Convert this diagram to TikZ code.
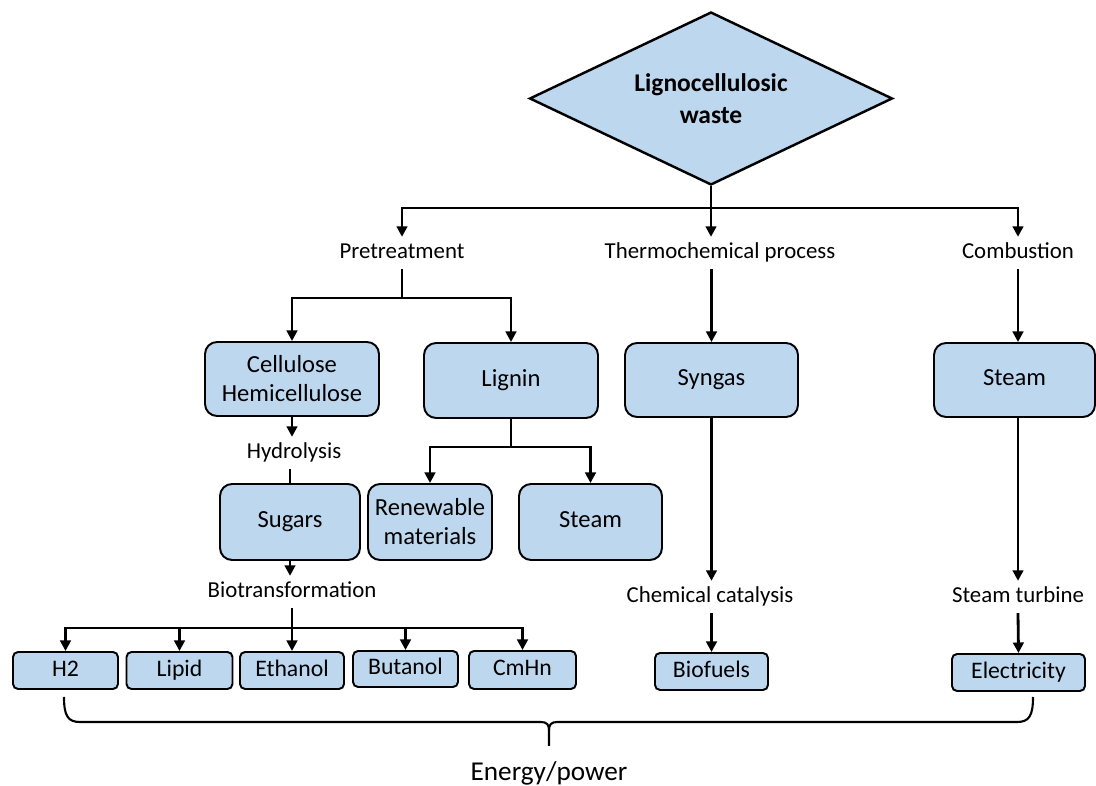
\documentclass[tikz,border=0pt]{standalone}
\usepackage{fontspec}
\setmainfont{Carlito}
\usepackage{xcolor}
\usetikzlibrary{arrows.meta,shapes.geometric}

\definecolor{boxblue}{RGB}{189,215,238}

\begin{document}
\begin{tikzpicture}[x=0.02cm,y=-0.02cm,
  box/.style={draw,fill=boxblue,line width=1.1pt,rounded corners=0.24cm,align=center,
    inner sep=0pt,font=\fontsize{14}{16.5}\selectfont},
  boxone/.style={box,text height=9.5pt,text depth=3pt},
  smallbox/.style={boxone,rounded corners=0.1cm,font=\fontsize{13.5}{16}\selectfont},
  lbl/.style={inner xsep=2pt,inner ysep=3pt,text height=9pt,text depth=3pt,
    font=\fontsize{13}{15}\selectfont},
  conn/.style={line width=1.6pt},
  arr/.style={conn,-{Triangle[length=6pt,width=6pt]}},
  bracepen/.style={line width=1.2pt}]
\useasboundingbox (0,0) rectangle (1096,786);

% Source
\node[diamond,aspect=2.1,draw,fill=boxblue,line width=1.4pt,minimum width=7.26cm,minimum height=3.46cm,
  inner sep=0pt,align=center,font=\fontsize{14.5}{18.5}\selectfont\bfseries]
  (waste) at (711,98.5) {Lignocellulosic\\waste};

% Routes
\node[lbl] (pre) at (402,253) {Pretreatment};
\node[lbl] (thermo) at (720,253) {Thermochemical process};
\node[lbl] (comb) at (1018,253) {Combustion};

\coordinate (split) at (711,208);
\draw[conn] (waste.south) -- (split);
\draw[arr] (split) -| (pre.north);
\draw[arr] (split) -- (split |- thermo.north);
\draw[arr] (split) -| (comb.north);

% Pretreatment branch
\node[box,minimum width=3.48cm,minimum height=1.48cm] (cell) at (292,379) {Cellulose\\Hemicellulose};
\node[boxone,minimum width=3.48cm,minimum height=1.5cm] (lignin) at (511,380.5) {Lignin};
\coordinate (presplit) at (402,298);
\draw[conn] (pre.south) -- (presplit);
\draw[arr] (presplit) -| (cell.north);
\draw[arr] (presplit) -| (lignin.north);

\node[lbl] (hydro) at (294,453) {Hydrolysis};
\node[boxone,minimum width=2.8cm,minimum height=1.52cm] (sugars) at (290,522) {Sugars};
\draw[arr] (cell.south) -- (cell.south |- hydro.north);
\draw[conn] (sugars.north |- hydro.south) -- (sugars.north);

\node[box,minimum width=2.48cm,minimum height=1.52cm] (renew) at (430,522) {Renewable\\materials};
\node[boxone,minimum width=2.86cm,minimum height=1.52cm] (steamL) at (590.5,522) {Steam};
\coordinate (lsplit) at (511,447);
\draw[conn] (lignin.south) -- (lsplit);
\draw[arr] (lsplit) -| (renew.north);
\draw[arr] (lsplit) -| (steamL.north);

% Biotransformation products
\node[lbl] (biot) at (292,592) {Biotransformation};
\draw[arr] (sugars.south) -- (sugars.south |- biot.north);
\node[smallbox,minimum width=2.1cm,minimum height=0.74cm] (h2) at (65.5,670.5) {H2};
\node[smallbox,minimum width=2.12cm,minimum height=0.74cm] (lipid) at (179.5,670.5) {Lipid};
\node[smallbox,minimum width=2.08cm,minimum height=0.74cm] (ethanol) at (292,670.5) {Ethanol};
\node[smallbox,minimum width=2.1cm,minimum height=0.72cm] (butanol) at (405.5,669) {Butanol};
\node[smallbox,minimum width=2.14cm,minimum height=0.76cm] (cmhn) at (522.5,670) {CmHn};
\coordinate (bsplit) at (292,628);
\draw[arr] (biot.south) -- (ethanol.north);
\foreach \p in {h2,lipid,butanol,cmhn}
  \draw[arr] (bsplit) -| (\p.north);

% Thermochemical branch
\node[boxone,minimum width=3.46cm,minimum height=1.48cm] (syngas) at (711.5,380) {Syngas};
\draw[arr] (syngas.north |- thermo.south) -- (syngas.north);
\node[lbl] (chem) at (710,597) {Chemical catalysis};
\draw[arr] (syngas.south) -- (syngas.south |- chem.north);
\node[smallbox,minimum width=2.26cm,minimum height=0.74cm] (biofuels) at (711.5,671.5) {Biofuels};
\draw[arr] (chem.south -| biofuels.north) -- (biofuels.north);

% Combustion branch
\node[boxone,minimum width=3.22cm,minimum height=1.48cm] (steamR) at (1014.5,380) {Steam};
\draw[arr] (comb.south) -- (comb.south |- steamR.north);
\node[lbl] (turb) at (1018,597) {Steam turbine};
\draw[arr] (turb.north |- steamR.south) -- (turb.north);
\node[smallbox,minimum width=2.66cm,minimum height=0.74cm] (elec) at (1018.5,672.5) {Electricity};
\draw[arr] (turb.south) -- (elec.north);

% Brace
\coordinate (bl) at (64,697);
\coordinate (br) at (1033,697);
\coordinate (tip) at (549,746);
\draw[bracepen] (bl) .. controls (64,716) and (68,722) .. (80,722) -- (541,722)
  .. controls (547,722) and (549,725) .. (549,730) -- (tip);
\draw[bracepen] (br) .. controls (1033,716) and (1029,722) .. (1017,722) -- (557,722)
  .. controls (551,722) and (549,725) .. (549,730);
\node[font=\fontsize{15.5}{18}\selectfont] (energy) at (549,773) {Energy/power};
\end{tikzpicture}
\end{document}
